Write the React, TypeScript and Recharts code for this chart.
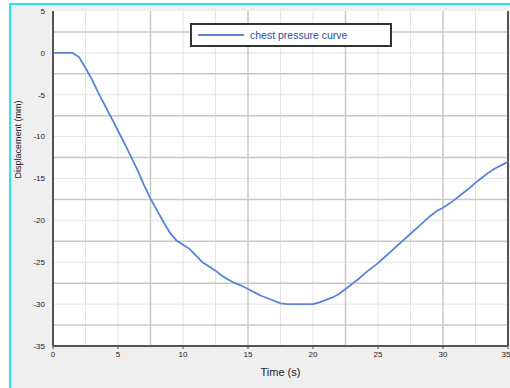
import { LineChart, Line, XAxis, YAxis, CartesianGrid, ReferenceLine } from "recharts";

// Time (s) samples and chest displacement (mm)
const times = [
  0, 0.5, 1, 1.5, 2, 2.5, 3, 3.5, 4, 4.5, 5, 5.5, 6, 6.5, 7, 7.5, 8, 8.5, 9, 9.5,
  10, 10.5, 11, 11.5, 12, 12.5, 13, 13.5, 14, 14.5, 15, 15.5, 16, 16.5, 17, 17.5,
  18, 18.5, 19, 19.5, 20, 20.5, 21, 21.5, 22, 22.5, 23, 23.5, 24, 24.5, 25, 25.5,
  26, 26.5, 27, 27.5, 28, 28.5, 29, 29.5, 30, 30.5, 31, 31.5, 32, 32.5, 33, 33.5,
  34, 34.5, 35,
];
const displacement = [
  0, 0, 0, 0, -0.5, -1.8, -3.2, -4.8, -6.3, -7.8, -9.3, -10.8, -12.4, -14, -15.8,
  -17.4, -18.8, -20.2, -21.5, -22.4, -22.9, -23.4, -24.2, -25, -25.5, -26, -26.6,
  -27.1, -27.5, -27.8, -28.2, -28.6, -29, -29.3, -29.6, -29.9, -30, -30, -30, -30,
  -30, -29.8, -29.5, -29.2, -28.8, -28.2, -27.6, -27, -26.3, -25.7, -25.1, -24.4,
  -23.7, -23, -22.3, -21.6, -20.9, -20.2, -19.5, -18.9, -18.5, -18, -17.4, -16.8,
  -16.2, -15.5, -14.9, -14.3, -13.8, -13.4, -13,
];

const xTicks = [0, 5, 10, 15, 20, 25, 30, 35];
const yTicks = [-35, -30, -25, -20, -15, -10, -5, 0, 5];
const xGridMinor = [2.5, 5, 10, 12.5, 17.5, 20, 25, 27.5, 32.5];
const xGridMajor = [7.5, 15, 22.5, 30];
const yGridMinor = [0, -5, -10, -15, -20, -25, -30];
const yGridMajor = [2.5, -2.5, -7.5, -12.5, -17.5, -22.5, -27.5, -32.5];

const seriesName = "chest pressure curve";
const lineColor = "#5b80de";
const font = "Liberation Sans, Arial, sans-serif";

const data = times.map((t, i) => ({ t, v: displacement[i] }));

const tickStyle = { fontSize: 8, fill: "#222", fontFamily: font };

export default function App() {
  return (
    <div style={{ position: "fixed", left: 0, top: 0, width: 510, height: 388, background: "#fff", overflow: "hidden" }}>
      <div
        style={{
          position: "absolute",
          left: 9,
          top: 3,
          right: 0,
          bottom: 0,
          background: "#efefef",
          borderLeft: "2px solid #22e8ee",
          borderTop: "2px solid #22e8ee",
        }}
      />
      <div style={{ position: "absolute", left: 0, top: 0 }}>
        <LineChart width={510} height={388} data={data} margin={{ top: 11, right: 2, bottom: 0, left: 0 }}>
          <CartesianGrid fill="#fff" stroke="#e4e4e4" horizontalValues={yGridMinor} verticalValues={xGridMinor} />
          <CartesianGrid
            fill="none"
            stroke="#c8c8c8"
            strokeWidth={1.5}
            horizontalValues={yGridMajor}
            verticalValues={xGridMajor}
          />
          <XAxis
            type="number"
            dataKey="t"
            domain={[0, 35]}
            ticks={xTicks}
            height={42}
            tick={tickStyle}
            tickLine={{ stroke: "#555" }}
            tickSize={3}
            axisLine={{ stroke: "#555", strokeWidth: 2 }}
            label={{ value: "Time (s)", position: "insideBottom", offset: 12, fontSize: 11, fill: "#222", fontFamily: font }}
          />
          <YAxis
            type="number"
            domain={[-35, 5]}
            ticks={yTicks}
            width={53}
            tick={tickStyle}
            tickLine={false}
            axisLine={{ stroke: "#555", strokeWidth: 2 }}
            label={{ value: "Displacement (mm)", angle: -90, position: "insideLeft", offset: 18, fontSize: 9, fill: "#222", fontFamily: font }}
          />
          <ReferenceLine x={35} stroke="#555" strokeWidth={2} />
          <Line
            type="linear"
            dataKey="v"
            name={seriesName}
            stroke={lineColor}
            strokeWidth={1.8}
            dot={false}
            isAnimationActive={false}
          />
        </LineChart>
      </div>
      <div
        style={{
          position: "absolute",
          left: 190,
          top: 23,
          display: "flex",
          alignItems: "center",
          width: 202,
          height: 24,
          border: "2px solid #333",
          background: "#fff",
          boxSizing: "border-box",
          fontFamily: font,
          fontSize: 10.5,
          color: "#2f4d9e",
        }}
      >
        <span style={{ display: "inline-block", width: 46, height: 2, background: lineColor, margin: "0 6px" }} />
        <span>{seriesName}</span>
      </div>
    </div>
  );
}
